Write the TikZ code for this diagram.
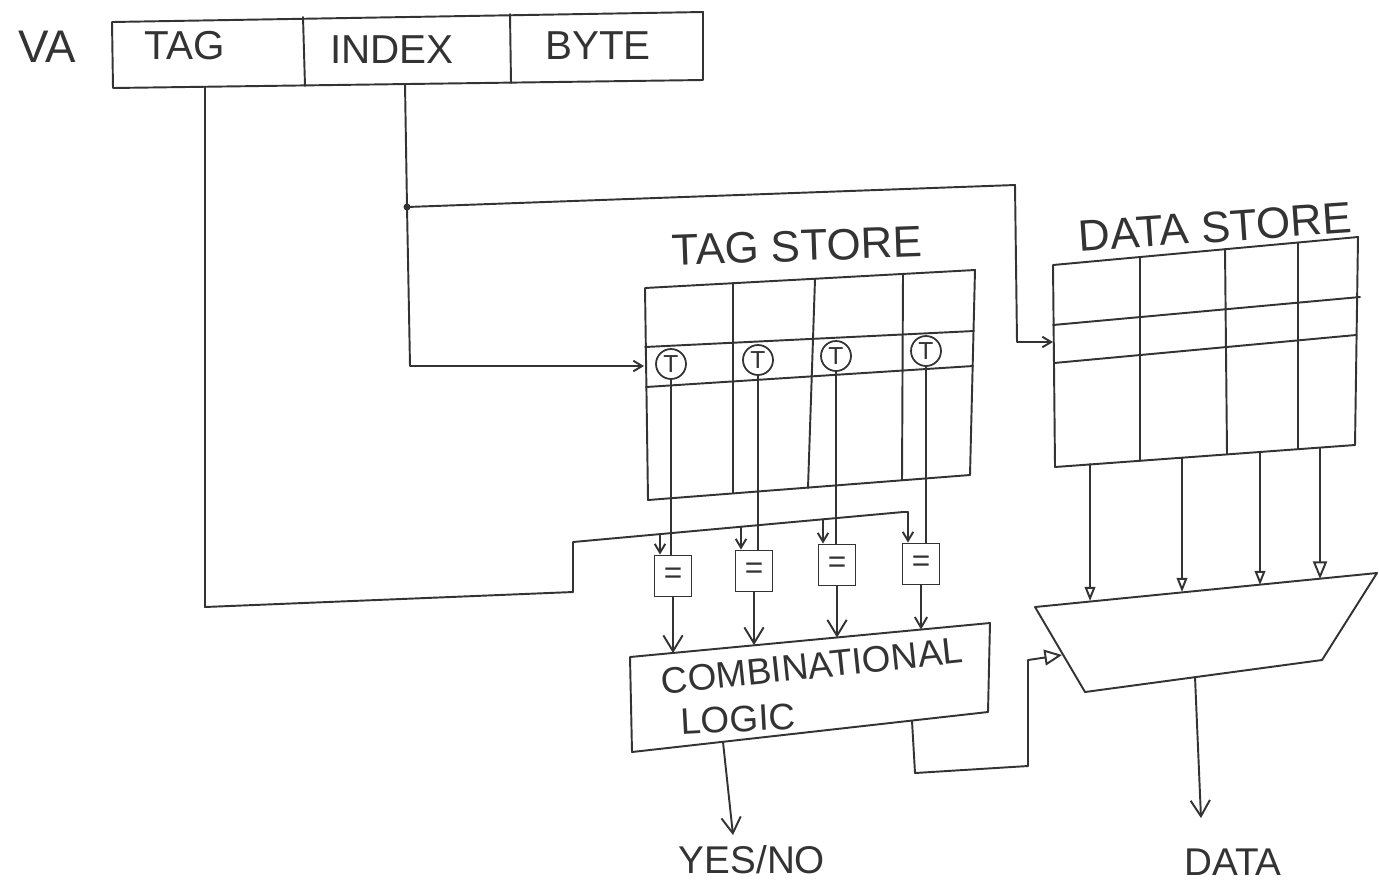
\documentclass[tikz,border=0pt]{standalone}
\usepackage{fontspec}
\setmainfont{Liberation Sans}
\usetikzlibrary{arrows.meta,calc}
\definecolor{ink}{HTML}{333333}
\begin{document}
\begin{tikzpicture}[x=0.02cm,y=-0.02cm,
  wire/.style={draw=ink,line width=1.1pt,line cap=round,line join=round},
  lbl/.style={text=ink,inner sep=0pt},
  fbig/.style={font=\fontsize{23}{27}\selectfont},
  fcomb/.style={font=\fontsize{21}{25}\selectfont},
  tcirc/.style={circle,draw=ink,line width=1pt,minimum size=0.6cm,inner sep=0pt,text=ink,font=\fontsize{14}{14}\selectfont},
  cmp/.style={draw=ink,line width=1.1pt,minimum width=0.74cm,minimum height=0.82cm,inner sep=0pt,text=ink,font=\fontsize{18}{18}\selectfont},
  barb/.style={-{Straight Barb[length=9pt,width=11pt]}},
  smallbarb/.style={-{Straight Barb[length=5pt,width=6pt]}},
  opentri/.style={-{Triangle[open,length=8pt,width=6pt]}},
]
\useasboundingbox[fill=white] (0,0) rectangle (1379,894);

% ---------- VA fields ----------
\node[lbl,font=\fontsize{26}{30}\selectfont] (va) at (47,47) {VA};
\coordinate (vaTL) at (112,22);
\coordinate (vaTR) at (703,12);
\coordinate (vaBR) at (703,80);
\coordinate (vaBL) at (113,88);
\draw[wire] (vaTL) -- (vaTR) -- (vaBR) -- (vaBL) -- cycle;
\draw[wire] (303,17) -- (305,86);
\draw[wire] (510,14) -- (511,83);
\node[lbl,fbig] (ftag) at (185,46) {TAG};
\node[lbl,fbig] (findex) at (392,50) {INDEX};
\node[lbl,fbig] (fbyte) at (598,46) {BYTE};
\coordinate (tagsrc) at (205,87);
\coordinate (idxsrc) at (405,84);

% ---------- Tag store ----------
\node[lbl,font=\fontsize{25}{29}\selectfont,rotate=2] (tslabel) at (797,246) {TAG STORE};
\coordinate (tsTL) at (645,288);
\coordinate (tsTR) at (975,270);
\coordinate (tsBR) at (970,475);
\coordinate (tsBL) at (648,500);
\draw[wire] (tsTL) -- (tsTR) -- (tsBR) -- (tsBL) -- cycle;
\draw[wire] (645,347) -- (974,331);
\draw[wire] (646,387) -- (973,366);
\draw[wire] (733,283) -- (733,493);
\draw[wire] (815,279) -- (808,488);
\draw[wire] (903,274) -- (902,480);
\node[tcirc,fill=white] (t1) at (671,364) {T};
\node[tcirc,fill=white] (t2) at (758,360) {T};
\node[tcirc,fill=white] (t3) at (836,356) {T};
\node[tcirc,fill=white] (t4) at (926,351) {T};

% ---------- Data store ----------
\node[lbl,font=\fontsize{25}{29}\selectfont,rotate=4] (dslabel) at (1215,227) {DATA STORE};
\coordinate (dsTL) at (1053,265);
\coordinate (dsTR) at (1358,237);
\coordinate (dsBR) at (1355,445);
\coordinate (dsBL) at (1055,467);
\draw[wire] (dsTL) -- (dsTR) -- (dsBR) -- (dsBL) -- cycle;
\draw[wire] (1053,325) -- (1360,297);
\draw[wire] (1054,363) -- (1356,335);
\draw[wire] (1140,257) -- (1140,461);
\draw[wire] (1225,249) -- (1227,454);
\draw[wire] (1298,243) -- (1298,449);

% ---------- Comparators ----------
\node[cmp] (c1) at (673,576) {=};
\node[cmp] (c2) at (754,571) {=};
\node[cmp] (c3) at (837,565) {=};
\node[cmp] (c4) at (921,564) {=};

% ---------- Combinational logic ----------
\coordinate (cbTL) at (630,657);
\coordinate (cbTR) at (990,623);
\coordinate (cbBR) at (988,712);
\coordinate (cbBL) at (632,752);
\draw[wire] (cbTL) -- (cbTR) -- (cbBR) -- (cbBL) -- cycle;
\node[lbl,fcomb,rotate=6] (combtxt) at (812,666) {COMBINATIONAL};
\node[lbl,fcomb,rotate=3] (logictxt) at (738,719) {LOGIC};

% ---------- Mux ----------
\coordinate (mTL) at (1035,607);
\coordinate (mTR) at (1377,573);
\coordinate (mBR) at (1322,660);
\coordinate (mBL) at (1085,692);
\draw[wire] (mTL) -- (mTR) -- (mBR) -- (mBL) -- cycle;

% ---------- Index connections ----------
\coordinate (jdot) at (407,207);
\coordinate (idxbend) at (410,366);
\coordinate (tsin) at (644,366);
\draw[wire,smallbarb] (idxsrc) -- (jdot) -- (idxbend) -- (tsin);
\fill[ink] (jdot) circle[radius=3.5];
\coordinate (dsb1) at (1015,185);
\coordinate (dsb2) at (1017,342);
\coordinate (dsin) at (1053,342);
\draw[wire,smallbarb] (jdot) -- (dsb1) -- (dsb2) -- (dsin);

% ---------- Tag bus ----------
\coordinate (tg1) at (205,607);
\coordinate (tg2) at (573,592);
\coordinate (tg3) at (573,542);
\coordinate (bus4) at (903,512);
\coordinate (bus4k) at (908,512);
\draw[wire] (tagsrc) -- (tg1) -- (tg2) -- (tg3) -- (bus4) -- (bus4k);
\coordinate (bus1) at (660,534.1);
\coordinate (bus2) at (741,526.7);
\coordinate (bus3) at (823,519.3);
\draw[wire,smallbarb] (bus1) -- (bus1 |- c1.north);
\draw[wire,smallbarb] (bus2) -- (bus2 |- c2.north);
\draw[wire,smallbarb] (bus3) -- (bus3 |- c3.north);
\draw[wire,smallbarb] (bus4k) -- (bus4k |- c4.north);

% ---------- Tag store to comparators ----------
\draw[wire] (t1.south) -- (t1.south |- c1.north);
\draw[wire] (t2.south) -- (t2.south |- c2.north);
\draw[wire] (t3.south) -- (t3.south |- c3.north);
\draw[wire] (t4.south) -- (t4.south |- c4.north);

% ---------- Comparators to combinational logic ----------
\coordinate (cb1) at (673,653);
\coordinate (cb2) at (754,645);
\coordinate (cb3) at (837,637.5);
\coordinate (cb4) at (921,629.5);
\draw[wire,barb] (c1.south) -- (cb1);
\draw[wire,barb] (c2.south) -- (cb2);
\draw[wire,barb] (c3.south) -- (cb3);
\draw[wire,-{Straight Barb[length=6pt,width=7pt]}] (c4.south) -- (cb4);

% ---------- YES/NO ----------
\coordinate (yn0) at (723,742);
\coordinate (yn1) at (733,835);
\draw[wire,barb] (yn0) -- (yn1);
\node[lbl,font=\fontsize{22}{26}\selectfont] (yesno) at (752,860) {YES/NO};

% ---------- Select ----------
\coordinate (sel0) at (912,721);
\coordinate (sel1) at (915,773);
\coordinate (sel2) at (1028,766);
\coordinate (sel3) at (1028,660);
\coordinate (sel4) at (1062,655);
\draw[wire,-{Triangle[open,length=10pt,width=9pt]}] (sel0) -- (sel1) -- (sel2) -- (sel3) -- (sel4);

% ---------- Data store to mux ----------
\coordinate (d1a) at (1090,464);  \coordinate (d1b) at (1090,601);
\coordinate (d2a) at (1182,458);  \coordinate (d2b) at (1182,592);
\coordinate (d3a) at (1260,452);  \coordinate (d3b) at (1260,585);
\coordinate (d4a) at (1320,448);  \coordinate (d4b) at (1320,579);
\draw[wire,opentri] (d1a) -- (d1b);
\draw[wire,opentri] (d2a) -- (d2b);
\draw[wire,opentri] (d3a) -- (d3b);
\draw[wire,-{Triangle[open,length=10pt,width=8pt]}] (d4a) -- (d4b);

% ---------- DATA output ----------
\coordinate (do0) at (1195,677);
\coordinate (do1) at (1201,818);
\draw[wire,barb] (do0) -- (do1);
\node[lbl,font=\fontsize{22}{26}\selectfont] (dataout) at (1233,862) {DATA};
\end{tikzpicture}
\end{document}
